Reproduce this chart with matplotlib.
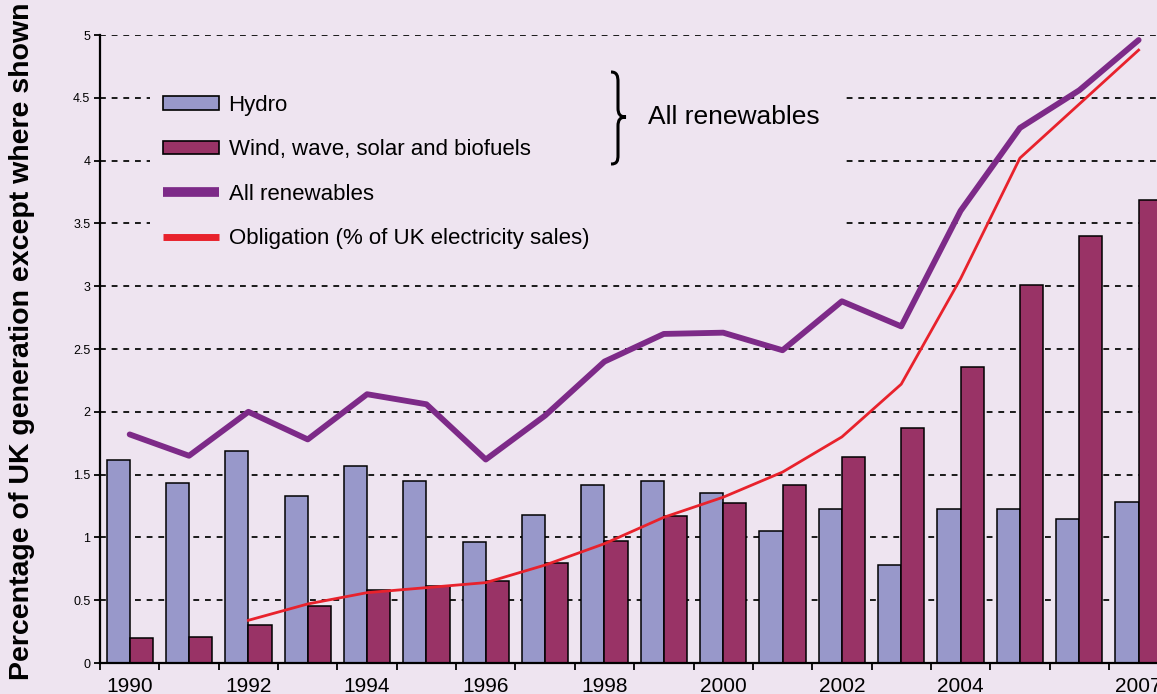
import matplotlib
matplotlib.use("Agg")
import matplotlib.pyplot as plt
from matplotlib.lines import Line2D
from matplotlib.patches import Patch, Rectangle, PathPatch
from matplotlib.path import Path

# ---------------------- DATA ----------------------
years = list(range(1990, 2008))
hydro = [1.62, 1.43, 1.69, 1.33, 1.57, 1.45, 0.96, 1.18, 1.42, 1.45,
         1.35, 1.05, 1.23, 0.78, 1.23, 1.23, 1.15, 1.28]
wind_etc = [0.20, 0.21, 0.30, 0.45, 0.58, 0.61, 0.65, 0.80, 0.97, 1.17,
            1.27, 1.42, 1.64, 1.87, 2.36, 3.01, 3.40, 3.69]
all_renew = [1.82, 1.65, 2.00, 1.78, 2.14, 2.06, 1.62, 1.97, 2.40, 2.62,
             2.63, 2.49, 2.88, 2.68, 3.60, 4.26, 4.56, 4.96]
oblig_years = list(range(1992, 2008))
obligation = [0.34, 0.47, 0.56, 0.60, 0.64, 0.78, 0.95, 1.16, 1.32, 1.52,
              1.80, 2.22, 3.06, 4.02, 4.45, 4.88]
label_years = [1990, 1992, 1994, 1996, 1998, 2000, 2002, 2004, 2007]
y_ticks = [0, 0.5, 1, 1.5, 2, 2.5, 3, 3.5, 4, 4.5, 5]
y_tick_labels = ["0", "0.5", "1", "1.5", "2", "2.5", "3", "3.5", "4", "4.5", "5"]
# --------------------------------------------------

W, H = 1157, 694
BG = "#EEE4F0"
HYDRO_C = "#9898CA"
WIND_C = "#993366"
PURPLE = "#7D2A88"
RED = "#E8222C"

plt.rcParams["font.family"] = ["Liberation Sans", "DejaVu Sans"]

fig = plt.figure(figsize=(W / 100, H / 100), dpi=100, facecolor=BG)
# axes: left spine at x=100px, y=0 at 663px, y=5 at 35px, 18 groups of ~59.35px
ax = fig.add_axes([100 / W, 1 - 663 / H, 18 * 59.35 / W, 628 / H], facecolor=BG)

bw = 0.39
ax.bar([y - 0.195 for y in years], hydro, width=bw, color=HYDRO_C,
       edgecolor="black", linewidth=1.1, zorder=2)
ax.bar([y + 0.195 for y in years], wind_etc, width=bw, color=WIND_C,
       edgecolor="black", linewidth=1.1, zorder=2)
ax.plot(oblig_years, obligation, color=RED, linewidth=2.0, zorder=3)
ax.plot(years, all_renew, color=PURPLE, linewidth=4.2, zorder=4,
        solid_capstyle="round", solid_joinstyle="round")

ax.set_xlim(1989.5, 2007.5)
ax.set_ylim(0, 5)

# grid
ax.set_axisbelow(True)
ax.yaxis.grid(True, color="#1a1a1a", linewidth=1.4, linestyle=(0, (3, 3)))
ax.xaxis.grid(False)

# box hiding the grid behind the legend
ax.add_patch(Rectangle((50 / 1068, (663 - 262) / 628), 695 / 1068, 197 / 628,
                       transform=ax.transAxes, facecolor=BG, edgecolor="none",
                       zorder=1))

# spines and ticks
for s in ["top", "right"]:
    ax.spines[s].set_visible(False)
ax.spines["left"].set_linewidth(1.6)
ax.spines["bottom"].set_linewidth(1.6)

ax.set_yticks(y_ticks)
ax.set_yticklabels(y_tick_labels, fontsize=9)
ax.tick_params(axis="y", length=4, width=1.3, pad=3)

ax.set_xticks(label_years)
ax.set_xticklabels([str(y) for y in label_years], fontsize=15)
ax.set_xticks([y - 0.5 for y in years], minor=True)
ax.tick_params(axis="x", which="major", length=0, pad=10)
ax.tick_params(axis="x", which="minor", length=5, width=1.3)

# legend
handles = [
    Patch(facecolor=HYDRO_C, edgecolor="black", linewidth=1.2, label="Hydro"),
    Patch(facecolor=WIND_C, edgecolor="black", linewidth=1.2,
          label="Wind, wave, solar and biofuels"),
    Line2D([], [], color=PURPLE, linewidth=7, solid_capstyle="butt",
           label="All renewables"),
    Line2D([], [], color=RED, linewidth=5, solid_capstyle="butt",
           label="Obligation (% of UK electricity sales)"),
]
ax.legend(handles=handles, loc="upper left",
          bbox_to_anchor=((163 - 100) / 1068, (663 - 95) / 628),
          frameon=False, fontsize=16, borderpad=0, borderaxespad=0,
          handlelength=2.5, handleheight=0.58, handletextpad=0.45,
          labelspacing=1.05)

# brace + "All renewables"
def px(x, y):
    return (x / W, 1 - y / H)

brace = Path(
    [px(611, 72), px(617, 72), px(618, 76), px(618, 82),
     px(618, 108),
     px(618, 114), px(620, 117), px(626, 117),
     px(620, 117), px(618, 120), px(618, 126),
     px(618, 155),
     px(618, 161), px(617, 164), px(611, 164)],
    [Path.MOVETO, Path.CURVE4, Path.CURVE4, Path.CURVE4,
     Path.LINETO,
     Path.CURVE4, Path.CURVE4, Path.CURVE4,
     Path.CURVE4, Path.CURVE4, Path.CURVE4,
     Path.LINETO,
     Path.CURVE4, Path.CURVE4, Path.CURVE4])
fig.add_artist(PathPatch(brace, transform=fig.transFigure, facecolor="none",
                         edgecolor="black", linewidth=2.2))
fig.text(648 / W, 1 - 117 / H, "All renewables", fontsize=19,
         ha="left", va="center")

fig.text(22 / W, 1 - 341 / H, "Percentage of UK generation except where shown",
         rotation=90, ha="center", va="center", fontsize=20.5, fontweight="bold")

fig.savefig("out.png", dpi=100, facecolor=BG)
